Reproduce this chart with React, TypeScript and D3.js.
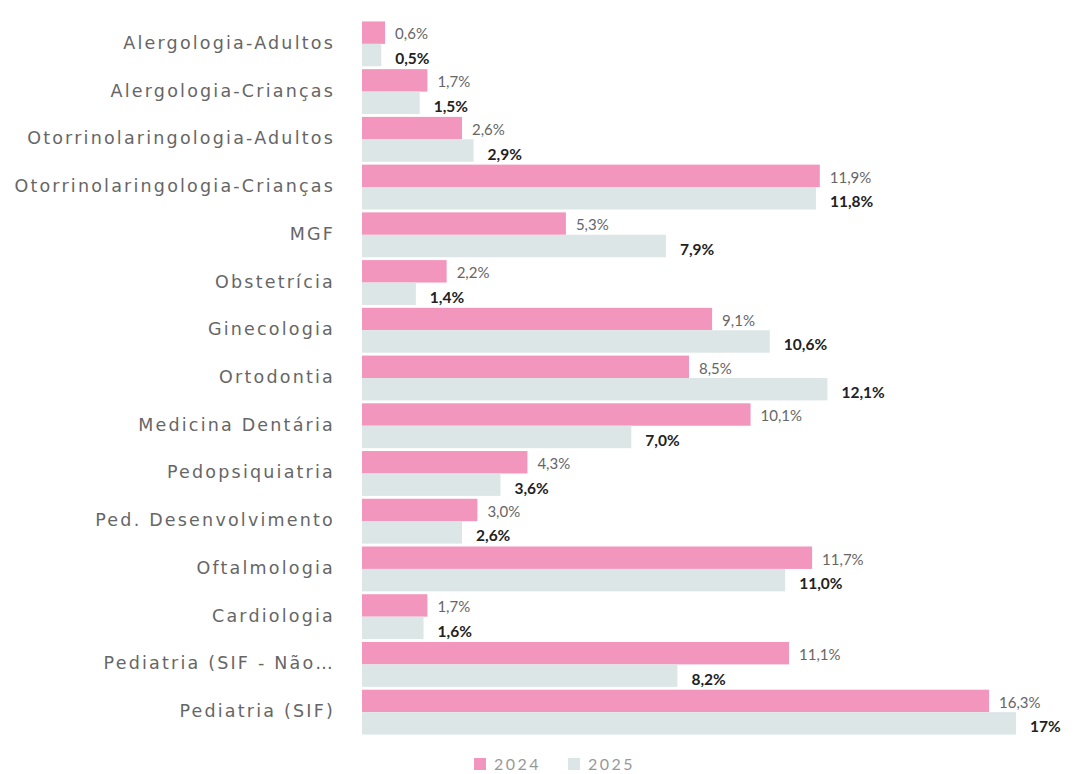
import React from "react";
import * as d3 from "d3";

const categories = [
  "Alergologia-Adultos",
  "Alergologia-Crianças",
  "Otorrinolaringologia-Adultos",
  "Otorrinolaringologia-Crianças",
  "MGF",
  "Obstetrícia",
  "Ginecologia",
  "Ortodontia",
  "Medicina Dentária",
  "Pedopsiquiatria",
  "Ped. Desenvolvimento",
  "Oftalmologia",
  "Cardiologia",
  "Pediatria (SIF - Não…",
  "Pediatria (SIF)",
];
const values2024 = [0.6, 1.7, 2.6, 11.9, 5.3, 2.2, 9.1, 8.5, 10.1, 4.3, 3.0, 11.7, 1.7, 11.1, 16.3];
const values2025 = [0.5, 1.5, 2.9, 11.8, 7.9, 1.4, 10.6, 12.1, 7.0, 3.6, 2.6, 11.0, 1.6, 8.2, 17];
const labels2024 = ["0,6%", "1,7%", "2,6%", "11,9%", "5,3%", "2,2%", "9,1%", "8,5%", "10,1%", "4,3%", "3,0%", "11,7%", "1,7%", "11,1%", "16,3%"];
const labels2025 = ["0,5%", "1,5%", "2,9%", "11,8%", "7,9%", "1,4%", "10,6%", "12,1%", "7,0%", "3,6%", "2,6%", "11,0%", "1,6%", "8,2%", "17%"];
const seriesNames = ["2024", "2025"];

const PINK = "#f396bd";
const GRAY = "#dce6e6";

export default function App() {
  const W = 1085, H = 774;
  const x = d3.scaleLinear().domain([0, 17]).range([362, 1016]);
  const y = d3.scaleBand<string>().domain(categories).range([20, 736]).paddingInner(0.06).paddingOuter(0.03);
  const sub = d3.scaleBand<string>().domain(seriesNames).range([0, y.bandwidth()]).padding(0);
  const legendX = d3.scalePoint<string>().domain(seriesNames).range([474, 568]);
  const colors = d3.scaleOrdinal<string, string>().domain(seriesNames).range([PINK, GRAY]);
  const font = "Lato, 'Noto Sans', sans-serif";
  const catFont = "'DejaVu Sans', 'Noto Sans', sans-serif";
  return (
    <svg width={W} height={H} style={{ position: "absolute", left: 0, top: 0, background: "#fff" }}>
      {categories.map((c, i) => {
        const y0 = y(c)!;
        const yc = y0 + y.bandwidth() / 2;
        const y1 = y0 + sub("2024")!;
        const y2 = y0 + sub("2025")!;
        const h = sub.bandwidth();
        return (
          <g key={c}>
            <text x={335} y={yc} textAnchor="end" dominantBaseline="middle" fontFamily={catFont} fontSize={17.5} letterSpacing={2.2} fill="#666">
              {c}
            </text>
            <rect x={x(0)} y={y1} width={x(values2024[i]) - x(0)} height={h} fill={PINK} />
            <rect x={x(0)} y={y2} width={x(values2025[i]) - x(0)} height={h} fill={GRAY} />
            <text x={x(values2024[i]) + 10} y={y1 + h / 2 + 3} dominantBaseline="middle" fontFamily={font} fontSize={15} fill="#666">
              {labels2024[i]}
            </text>
            <text x={x(values2025[i]) + 14} y={y2 + h / 2 + 5} dominantBaseline="middle" fontFamily={font} fontSize={15.5} fontWeight="bold" fill="#222">
              {labels2025[i]}
            </text>
          </g>
        );
      })}
      <g fontFamily={font} fontSize={16} fill="#999">
        {seriesNames.map((s) => (
          <g key={s}>
            <rect x={legendX(s)!} y={758} width={12} height={12} fill={colors(s)} />
            <text x={legendX(s)! + 20} y={770} letterSpacing={2.5}>{s}</text>
          </g>
        ))}
      </g>
    </svg>
  );
}
